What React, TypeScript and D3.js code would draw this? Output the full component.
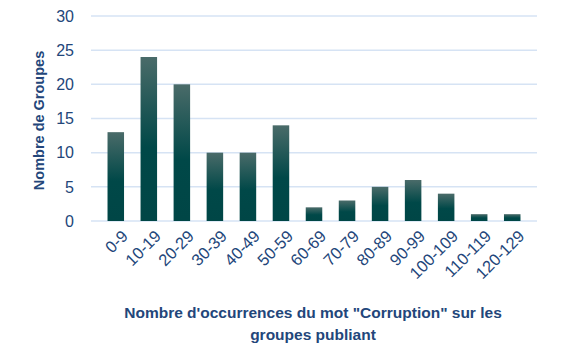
import React, { useEffect, useRef } from "react";
import * as d3 from "d3";

const categories = ["0-9", "10-19", "20-29", "30-39", "40-49", "50-59", "60-69", "70-79", "80-89", "90-99", "100-109", "110-119", "120-129"];
const groupCounts = [13, 24, 20, 10, 10, 14, 2, 3, 5, 6, 4, 1, 1];
const yTicks = [0, 5, 10, 15, 20, 25, 30];

const textColor = "#23467a";

const App = () => {
  const ref = useRef<SVGSVGElement>(null);

  useEffect(() => {
    const width = 561;
    const height = 364;
    const margin = { top: 16, left: 91, right: 24, bottom: 143 };
    const iwidth = width - margin.left - margin.right;
    const iheight = height - margin.top - margin.bottom;

    const svg = d3.select(ref.current).attr("width", width).attr("height", height);
    svg.selectAll("*").remove();

    const defs = svg.append("defs");
    const grad = defs
      .append("linearGradient")
      .attr("id", "barGrad")
      .attr("x1", 0).attr("y1", 0).attr("x2", 0).attr("y2", 1);
    grad.append("stop").attr("offset", "0%").attr("stop-color", "#4a6b69");
    grad.append("stop").attr("offset", "55%").attr("stop-color", "#004848");
    grad.append("stop").attr("offset", "100%").attr("stop-color", "#004646");

    const g = svg.append("g").attr("transform", `translate(${margin.left},${margin.top})`);

    const y = d3.scaleLinear().domain([0, 30]).range([iheight, 0]);
    const x = d3.scaleBand().domain(categories).range([0, iwidth]).padding(0.5);

    // grid
    g.selectAll("line.grid")
      .data(yTicks)
      .enter()
      .append("line")
      .attr("x1", 0)
      .attr("x2", iwidth)
      .attr("y1", (d) => y(d))
      .attr("y2", (d) => y(d))
      .attr("stroke", "#d6e3f4")
      .attr("stroke-width", 1.5);

    // y labels
    g.selectAll("text.ytick")
      .data(yTicks)
      .enter()
      .append("text")
      .attr("x", -17)
      .attr("y", (d) => y(d))
      .attr("dy", "0.36em")
      .attr("text-anchor", "end")
      .attr("font-family", "Liberation Sans, Arial, sans-serif")
      .attr("font-size", 16)
      .attr("fill", textColor)
      .text((d) => d);

    g.selectAll("rect.bar")
      .data(groupCounts)
      .enter()
      .append("rect")
      .attr("x", (d, i) => x(categories[i]))
      .attr("y", (d) => y(d))
      .attr("width", x.bandwidth())
      .attr("height", (d) => iheight - y(d))
      .attr("fill", "url(#barGrad)");

    // x labels
    g.selectAll("text.xtick")
      .data(categories)
      .enter()
      .append("text")
      .attr("transform", (d) => `translate(${x(d) + x.bandwidth() / 2 + 5},${iheight + 8}) rotate(-45)`)
      .attr("text-anchor", "end")
      .attr("dy", "0.7em")
      .attr("font-family", "Liberation Sans, Arial, sans-serif")
      .attr("font-size", 16.5)
      .attr("fill", textColor)
      .text((d) => d);

    // axis titles
    svg.append("text")
      .attr("transform", `translate(44,${margin.top + iheight / 2 + 2}) rotate(-90)`)
      .attr("text-anchor", "middle")
      .attr("font-family", "Liberation Sans Narrow, Liberation Sans, Arial, sans-serif")
      .attr("font-weight", "bold")
      .attr("font-size", 14.5)
      .attr("fill", textColor)
      .text("Nombre de Groupes");

    const xt = svg.append("text")
      .attr("text-anchor", "middle")
      .attr("font-family", "Liberation Sans, Arial, sans-serif")
      .attr("font-weight", "bold")
      .attr("font-size", 15.5)
      .attr("fill", textColor);
    xt.append("tspan").attr("x", 313).attr("y", 318).text('Nombre d\'occurrences du mot "Corruption" sur les');
    xt.append("tspan").attr("x", 313).attr("y", 340).text("groupes publiant");
  }, []);

  return (
    <div style={{ position: "absolute", left: 0, top: 0 }}>
      <svg ref={ref}></svg>
    </div>
  );
};

export default App;
